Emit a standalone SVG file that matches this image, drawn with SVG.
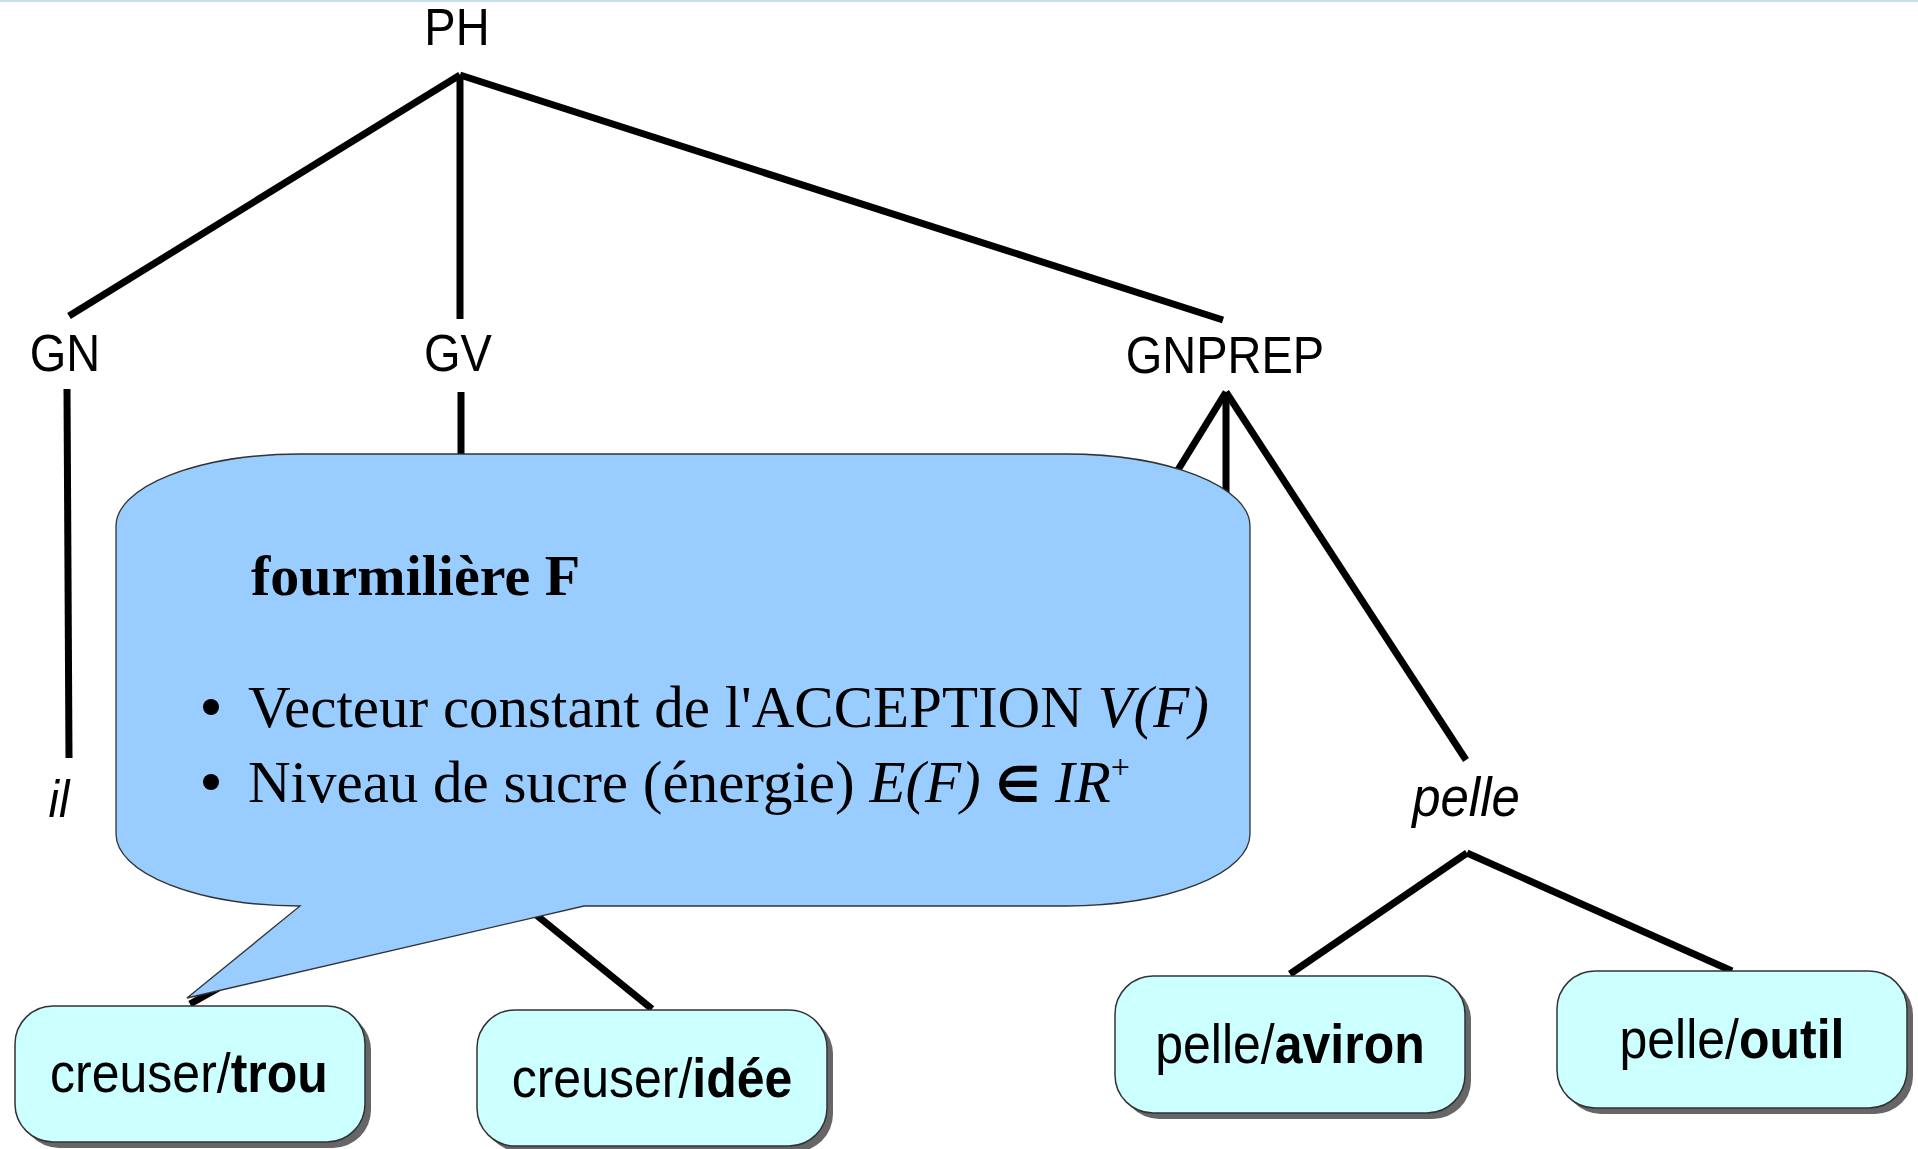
<svg xmlns="http://www.w3.org/2000/svg" width="1918" height="1149" viewBox="0 0 1918 1149">
<style>
.lbl{font-family:"Liberation Sans",Arial,sans-serif;font-size:47px;fill:#000;text-anchor:middle}
.it{font-style:italic}
.edge{stroke:#000;stroke-width:7;fill:none;stroke-linecap:butt}
.box{fill:#ccffff;stroke:#333;stroke-width:1.5}
.shadow{fill:#666}
.btxt{font-family:"Liberation Sans",Arial,sans-serif;font-size:50px;fill:#000;text-anchor:middle}
.b{font-weight:bold}
.bub{fill:#99ccff;stroke:#333;stroke-width:1.3}
.ser{font-family:"Liberation Serif","Times New Roman",serif;fill:#000}
</style>
<rect x="0" y="0" width="1918" height="1149" fill="#fff"/>
<line x1="0" y1="1" x2="1918" y2="1" stroke="#c9dfee" stroke-width="2"/>

<g id="connectors">
  <line class="edge" x1="460" y1="75" x2="69" y2="316"/>
  <line class="edge" x1="460" y1="75" x2="460" y2="319"/>
  <line class="edge" x1="460" y1="75" x2="1223" y2="320"/>
  <line class="edge" x1="67" y1="389" x2="69" y2="758"/>
  <line class="edge" x1="461" y1="392" x2="461" y2="800"/>
  <line class="edge" x1="1226" y1="392" x2="1110" y2="580"/>
  <line class="edge" x1="1226" y1="392" x2="1226" y2="700"/>
  <line class="edge" x1="1226" y1="392" x2="1466" y2="760"/>
  <line class="edge" x1="1467" y1="853" x2="1290" y2="974"/>
  <line class="edge" x1="1467" y1="853" x2="1732" y2="971"/>
  <line class="edge" x1="460" y1="853" x2="190" y2="1004"/>
  <line class="edge" x1="460" y1="853" x2="652" y2="1009"/>
</g>

<g id="node-PH"><text class="lbl" transform="translate(457,45) scale(1,1.1)">PH</text></g>
<g id="node-GN"><text class="lbl" transform="translate(65,371) scale(1,1.1)">GN</text></g>
<g id="node-GV"><text class="lbl" transform="translate(458,371) scale(1,1.1)">GV</text></g>
<g id="node-GNPREP"><text class="lbl" transform="translate(1225,373) scale(1,1.1)">GNPREP</text></g>
<g id="node-il"><text class="lbl it" transform="translate(59,817) scale(1,1.1)">il</text></g>
<g id="node-pelle"><text class="lbl it" style="font-size:51px" transform="translate(1466,816) scale(1,1.1)">pelle</text></g>

<g id="node-trou">
  <rect class="shadow" x="21" y="1012" width="350" height="136" rx="38" ry="38"/>
  <rect class="box" x="15" y="1006" width="350" height="136" rx="38" ry="38"/>
  <text class="btxt" transform="translate(189,1092) scale(1,1.1)">creuser/<tspan class="b">trou</tspan></text>
</g>
<g id="node-idee">
  <rect class="shadow" x="483" y="1016" width="350" height="136" rx="38" ry="38"/>
  <rect class="box" x="477" y="1010" width="350" height="136" rx="38" ry="38"/>
  <text class="btxt" transform="translate(652,1097) scale(1,1.1)">creuser/<tspan class="b">idée</tspan></text>
</g>
<g id="node-aviron">
  <rect class="shadow" x="1121" y="982" width="350" height="137" rx="38" ry="38"/>
  <rect class="box" x="1115" y="976" width="350" height="137" rx="38" ry="38"/>
  <text class="btxt" transform="translate(1290,1063) scale(1,1.1)">pelle/<tspan class="b">aviron</tspan></text>
</g>
<g id="node-outil">
  <rect class="shadow" x="1563" y="977" width="350" height="137" rx="38" ry="38"/>
  <rect class="box" x="1557" y="971" width="350" height="137" rx="38" ry="38"/>
  <text class="btxt" transform="translate(1732,1058) scale(1,1.1)">pelle/<tspan class="b">outil</tspan></text>
</g>

<g id="node-bubble">
  <path class="bub" d="M300,454 L1066,454 A184,72 0 0 1 1250,526 L1250,834 A184,72 0 0 1 1066,906 L584,906 L187,998 L300,906 A184,72 0 0 1 116,834 L116,526 A184,72 0 0 1 300,454 Z"/>
  <text class="ser" x="251" y="595" font-size="58" font-weight="bold">fourmilière F</text>
  <circle cx="211" cy="707" r="8" fill="#000"/>
  <circle cx="211" cy="782" r="8" fill="#000"/>
  <text class="ser" x="248" y="727" font-size="59">Vecteur constant de l'ACCEPTION <tspan font-style="italic">V(F)</tspan></text>
  <text class="ser" x="248" y="802" font-size="59">Niveau de sucre (énergie) <tspan font-style="italic">E(F)</tspan> <tspan font-family="'DejaVu Sans',sans-serif" font-size="50" font-weight="bold">∈</tspan> <tspan font-style="italic">IR</tspan><tspan font-size="34" dy="-24">+</tspan></text>
</g>
</svg>
